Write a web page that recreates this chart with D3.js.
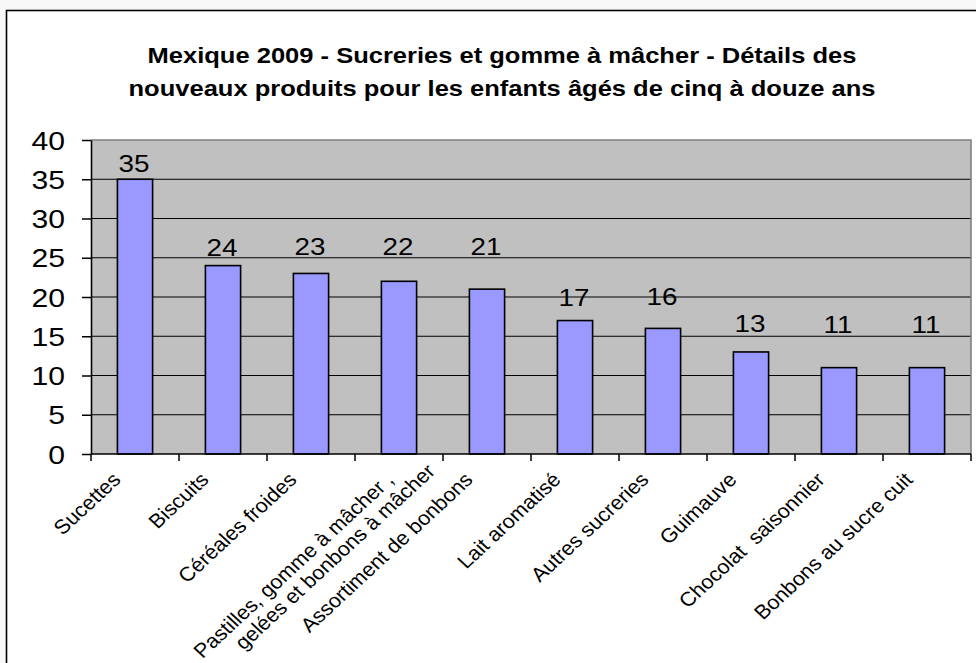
<!DOCTYPE html>
<html>
<head>
<meta charset="utf-8">
<script src="https://cdn.jsdelivr.net/npm/d3@7"></script>
<style>
  html, body { margin: 0; padding: 0; background: #f8f8f8; }
  svg { display: block; }
  text { font-family: "Liberation Sans", Arial, sans-serif; fill: #000; }
</style>
</head>
<body>
<svg id="chart" width="976" height="663"></svg>
<script>
const titleLines = [
  "Mexique 2009 - Sucreries et gomme à mâcher - Détails des",
  "nouveaux produits pour les enfants âgés de cinq à douze ans"
];
const categories = [
  "Sucettes",
  "Biscuits",
  "Céréales froides",
  "Pastilles, gomme à mâcher ,\ngelées et bonbons à mâcher",
  "Assortiment de bonbons",
  "Lait aromatisé",
  "Autres sucreries",
  "Guimauve",
  "Chocolat  saisonnier",
  "Bonbons au sucre cuit"
];
const values = [35, 24, 23, 22, 21, 17, 16, 13, 11, 11];
const yTicks = [0, 5, 10, 15, 20, 25, 30, 35, 40];

// layout: extra upward lift (px) of each data label, as placed in the reference
const labelLift = [0, 3, 11, 19, 27, 8, 16, 13, 28, 28];

const W = 976, H = 663;
const plot = { left: 91, right: 971, top: 140, bottom: 454 };
const SX = 1.16;   // horizontal text stretch seen in the reference
const SXL = 1.08;  // stretch for rotated category labels

const svg = d3.select("#chart");

// outer frame (extends beyond the visible area on right/bottom)
svg.append("rect")
  .attr("x", 6.5).attr("y", 10.5)
  .attr("width", W + 20).attr("height", H + 20)
  .attr("fill", "#fff").attr("stroke", "#000").attr("stroke-width", 1.6);

// title
const tg = svg.append("g");
titleLines.forEach((t, i) => {
  tg.append("text")
    .attr("transform", `translate(502,${63 + i * 33}) scale(${SX},1)`)
    .attr("text-anchor", "middle")
    .attr("font-size", 22)
    .attr("font-weight", "bold")
    .text(t);
});

const x = d3.scaleBand()
  .domain(categories)
  .range([plot.left, plot.right])
  .paddingInner(0.6)
  .paddingOuter(0.3);

const y = d3.scaleLinear()
  .domain([0, 40])
  .range([plot.bottom, plot.top]);

// plot background
svg.append("rect")
  .attr("x", plot.left).attr("y", plot.top)
  .attr("width", plot.right - plot.left)
  .attr("height", plot.bottom - plot.top)
  .attr("fill", "#c0c0c0");

// gridlines
svg.append("g")
  .selectAll("line")
  .data(yTicks.filter(v => v > 0 && v < 40))
  .join("line")
  .attr("x1", plot.left).attr("x2", plot.right)
  .attr("y1", d => y(d)).attr("y2", d => y(d))
  .attr("stroke", "#000").attr("stroke-width", 1);

// plot border top / right (gray)
svg.append("path")
  .attr("d", `M${plot.left},${plot.top}H${plot.right}V${plot.bottom}`)
  .attr("fill", "none").attr("stroke", "#808080").attr("stroke-width", 1.6);

// bars
svg.append("g")
  .selectAll("rect")
  .data(values)
  .join("rect")
  .attr("x", (d, i) => x(categories[i]))
  .attr("y", d => y(d))
  .attr("width", x.bandwidth())
  .attr("height", d => y(0) - y(d))
  .attr("fill", "#9999ff")
  .attr("stroke", "#000")
  .attr("stroke-width", 1.6);

// data labels
svg.append("g")
  .selectAll("text")
  .data(values)
  .join("text")
  .attr("transform", (d, i) =>
    `translate(${x(categories[i]) + x.bandwidth() / 2 - 1},${y(d) - 7 - labelLift[i]}) scale(${SX},1)`)
  .attr("text-anchor", "middle")
  .attr("font-size", 24)
  .text(d => d);

// y axis
const yAxis = svg.append("g")
  .attr("transform", `translate(${plot.left},0)`)
  .call(d3.axisLeft(y).tickValues(yTicks).tickSize(9).tickSizeOuter(0));
yAxis.select(".domain").attr("stroke", "#000").attr("stroke-width", 1.6);
yAxis.selectAll(".tick line").attr("stroke", "#000").attr("stroke-width", 1.5);
yAxis.selectAll(".tick text")
  .attr("x", null).attr("dy", null)
  .attr("transform", `translate(-26,9) scale(${SX},1)`)
  .attr("text-anchor", "end")
  .attr("font-size", 26)
  .attr("font-family", "Liberation Sans, Arial, sans-serif")
  .attr("fill", "#000");

// x axis line and ticks at category boundaries
const gap = x.step() - x.bandwidth();
const bounds = categories.map(c => x(c) - gap / 2).concat([x(categories[categories.length - 1]) + x.bandwidth() + gap / 2]);
const xg = svg.append("g");
xg.selectAll("line.tk")
  .data(bounds)
  .join("line")
  .attr("class", "tk")
  .attr("x1", d => d).attr("x2", d => d)
  .attr("y1", plot.bottom).attr("y2", plot.bottom + 7)
  .attr("stroke", "#000").attr("stroke-width", 1.5);
xg.append("line")
  .attr("x1", plot.left).attr("x2", plot.right)
  .attr("y1", plot.bottom).attr("y2", plot.bottom)
  .attr("stroke", "#000").attr("stroke-width", 1.6);

// x labels (rotated)
categories.forEach((c, i) => {
  const cx = x(c) + x.bandwidth() / 2;
  const lines = c.split("\n");
  const ax = lines.length > 1 ? cx - 4 : cx - 13;
  const g = svg.append("g")
    .attr("transform", `translate(${ax},481) scale(${SXL},1) rotate(-45)`);
  lines.forEach((ln, j) => {
    g.append("text")
      .attr("x", j * 33)
      .attr("y", j * 21)
      .attr("text-anchor", "end")
      .attr("font-size", 20)
      .style("white-space", "pre")
      .text(ln);
  });
});
</script>
</body>
</html>
